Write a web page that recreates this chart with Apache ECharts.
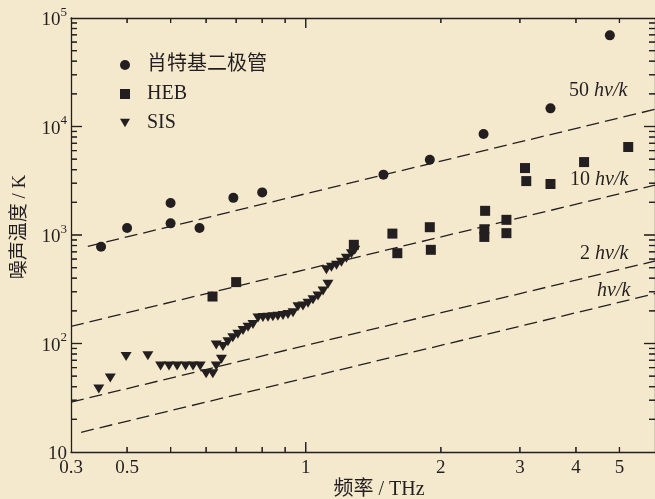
<!DOCTYPE html>
<html>
<head>
<meta charset="utf-8">
<script src="https://cdn.jsdelivr.net/npm/echarts@6/dist/echarts.min.js"></script>
<style>
html,body{margin:0;padding:0;background:#f5e9cd;}
#c{width:655px;height:499px;}
</style>
</head>
<body>
<div id="c"></div>
<script>
// ---- data ----
const seriesNames = ['肖特基二极管', 'HEB', 'SIS'];

const diodeFreq = [0.35, 0.40, 0.50, 0.50, 0.58, 0.69, 0.80, 1.49, 1.89, 2.49, 3.51, 4.76];
const diodeTemp = [780, 1160, 1970, 1280, 1160, 2200, 2470, 3600, 4940, 8530, 14700, 69200];

const hebFreq = [0.62, 0.70, 1.28, 1.56, 1.60, 1.89, 1.90, 2.51, 2.50, 2.50, 2.80, 2.80, 3.08, 3.10, 3.51, 4.17, 5.23];
const hebTemp = [271, 368, 812, 1030, 680, 1180, 730, 1670, 1130, 960, 1380, 1040, 4140, 3140, 2950, 4700, 6470];

const sisFreq = [0.346, 0.367, 0.398, 0.445, 0.475, 0.496, 0.517, 0.540, 0.561, 0.582, 0.600, 0.621,
  0.632, 0.649, 0.632, 0.654, 0.671, 0.688, 0.706, 0.725, 0.744, 0.763, 0.783,
  0.803, 0.824, 0.845, 0.867, 0.890, 0.913, 0.937, 0.961, 0.986, 1.012, 1.038, 1.065, 1.093, 1.121,
  1.112, 1.141, 1.171, 1.201, 1.232, 1.264, 1.286];
const sisTemp = [38, 48, 76, 77, 62, 62, 62, 62, 62, 62, 52.5, 52.5,
  62, 71.6, 97, 94, 104, 113, 122, 132, 141, 150, 172,
  174, 175, 176, 178, 181, 185, 192, 218, 222, 235, 253, 274, 305, 352,
  478, 504, 527, 560, 609, 670, 725];

// reference lines T = n·hν/k (end points)
const refLineNames = ['50', '10', '2', ''];
const refLineFreq = [[0.327, 6], [0.3, 6], [0.3, 6], [0.316, 6]];
const refLineTemp = [[785, 14400], [144, 2880], [28.8, 576], [15.2, 288]];

// axis ticks
const xTickValues = [0.3, 0.4, 1, 2, 3, 4, 5];
const xTickLabels = ['0.3', '0.5', '1', '2', '3', '4', '5'];
const xMinorTicks = [0.4, 0.5, 0.6, 0.7, 0.8, 0.9, 2, 3, 4, 5];
const xMajorTicks = [1];
const yTickValues = [10, 100, 1000, 10000, 100000];
const yTickExp = ['', '2', '3', '4', '5'];
const yMajorTicks = [100, 1000, 10000];
const yMinorTicks = [20,30,40,50,60,70,80,90,200,300,400,500,600,700,800,900,
  2000,3000,4000,5000,6000,7000,8000,9000,20000,30000,40000,50000,60000,70000,80000,90000];

// ---- chart ----
const INK = '#231f20';
const SERIF = '"Liberation Serif", "Noto Sans CJK SC", serif';
const chart = echarts.init(document.getElementById('c'));

const X_MIN = 0.3, X_MAX = 6, Y_MIN = 10, Y_MAX = 100000;

function xAxisDef(pos, showLabel) {
  return {
    type: 'log', logBase: 10, min: X_MIN, max: X_MAX, position: pos,
    axisLine: {show: true, lineStyle: {color: INK, width: 1.3}},
    axisTick: {show: false},
    minorTick: {show: false},
    splitLine: {show: false},
    axisLabel: showLabel ? {
      show: true, customValues: xTickValues, margin: 7,
      fontFamily: SERIF, fontSize: 19, color: INK,
      formatter: function (v) {
        for (let i = 0; i < xTickValues.length; i++) {
          if (Math.abs(xTickValues[i] - v) / xTickValues[i] < 1e-6) return xTickLabels[i];
        }
        return '';
      }
    } : {show: false}
  };
}
function yAxisDef(pos, showLabel) {
  return {
    type: 'log', logBase: 10, min: Y_MIN, max: Y_MAX, position: pos,
    axisLine: {show: true, lineStyle: {color: INK, width: 1.3}},
    axisTick: {show: false},
    minorTick: {show: false},
    splitLine: {show: false},
    axisLabel: showLabel ? {
      show: true, customValues: yTickValues, margin: 4,
      formatter: function (v) {
        for (let i = 0; i < yTickValues.length; i++) {
          if (Math.abs(yTickValues[i] - v) / yTickValues[i] < 1e-6) {
            return yTickExp[i] ? '{b|10}{s|' + yTickExp[i] + '}' : '{b|10}';
          }
        }
        return '';
      },
      rich: {
        b: {fontFamily: SERIF, fontSize: 19, color: INK, lineHeight: 24, verticalAlign: 'bottom'},
        s: {fontFamily: SERIF, fontSize: 13, color: INK, lineHeight: 14, verticalAlign: 'top'}
      }
    } : {show: false}
  };
}

const lineSeries = refLineFreq.map(function (fr, i) {
  return {
    type: 'line', name: 'ref' + refLineNames[i],
    data: fr.map(function (f, j) { return [f, refLineTemp[i][j]]; }),
    showSymbol: false, silent: true,
    lineStyle: {color: INK, width: 1.3, type: [13, 6]}
  };
});

// tick marks as thin rect symbols placed by the axes' scales, shifted inward
function tickMarks(points, w, h, dx, dy) {
  return {
    type: 'scatter', symbol: 'rect', symbolSize: [w, h], symbolOffset: [dx, dy],
    itemStyle: {color: INK},
    data: points
  };
}
const tickSeries = [
  tickMarks(xMinorTicks.map(function (v) { return [v, Y_MIN]; }), 1.2, 5, 0, -2.5),
  tickMarks(xMinorTicks.map(function (v) { return [v, Y_MAX]; }), 1.2, 5, 0, 2.5),
  tickMarks(xMajorTicks.map(function (v) { return [v, Y_MIN]; }), 1.2, 10, 0, -5),
  tickMarks(xMajorTicks.map(function (v) { return [v, Y_MAX]; }), 1.2, 10, 0, 5),
  tickMarks(yMinorTicks.map(function (v) { return [X_MIN, v]; }), 6, 1.2, 3, 0),
  tickMarks(yMinorTicks.map(function (v) { return [X_MAX, v]; }), 6, 1.2, -3, 0),
  tickMarks(yMajorTicks.map(function (v) { return [X_MIN, v]; }), 11, 1.2, 5.5, 0),
  tickMarks(yMajorTicks.map(function (v) { return [X_MAX, v]; }), 11, 1.2, -5.5, 0)
];

function hvk(prefix, l, t) {
  return {type: 'text', left: l, top: t, style: {
    text: (prefix ? '{n|' + prefix + ' }' : '') + '{i|hv/k}',
    rich: {
      n: {fontFamily: SERIF, fontSize: 20, fill: INK},
      i: {fontFamily: SERIF, fontSize: 20, fontStyle: 'italic', fill: INK}
    }}};
}

const textGraphics = [
  hvk('50', 569, 81),
  hvk('10', 570, 170),
  hvk('2', 580, 244),
  hvk('', 597, 281),
  {type: 'text', x: 20, y: 227, rotation: Math.PI / 2,
    style: {text: '噪声温度 / K', fontFamily: SERIF, fontSize: 19, fill: INK, textAlign: 'center', textVerticalAlign: 'middle'}},
  {type: 'text', x: 379, y: 490,
    style: {text: '频率 / THz', fontFamily: SERIF, fontSize: 20, fill: INK, textAlign: 'center', textVerticalAlign: 'middle'}}
];

chart.setOption({
  backgroundColor: '#f5e9cd',
  animation: false,
  grid: {left: 71, right: 0, top: 18, bottom: 47},
  xAxis: [xAxisDef('bottom', true), xAxisDef('top', false)],
  yAxis: [yAxisDef('left', true), yAxisDef('right', false)],
  legend: {
    orient: 'vertical', left: 115, top: 50, itemGap: 9,
    itemWidth: 10, itemHeight: 10,
    data: [
      {name: seriesNames[0], icon: 'circle'},
      {name: seriesNames[1], icon: 'rect'},
      {name: seriesNames[2], icon: 'path://M0,0 L12,0 L6,10 Z'}
    ],
    textStyle: {fontFamily: SERIF, fontSize: 20, color: INK, padding: [0, 0, 0, 12]},
    selectedMode: false
  },
  series: lineSeries.concat(tickSeries).concat([
    {
      type: 'scatter', name: seriesNames[0], symbol: 'circle', symbolSize: 10,
      itemStyle: {color: INK, opacity: 1},
      data: diodeFreq.map(function (f, i) { return [f, diodeTemp[i]]; })
    },
    {
      type: 'scatter', name: seriesNames[1], symbol: 'rect', symbolSize: 10,
      itemStyle: {color: INK, opacity: 1},
      data: hebFreq.map(function (f, i) { return [f, hebTemp[i]]; })
    },
    {
      type: 'scatter', name: seriesNames[2], symbol: 'triangle', symbolRotate: 180, symbolSize: [11, 9],
      itemStyle: {color: INK, opacity: 1},
      data: sisFreq.map(function (f, i) { return [f, sisTemp[i]]; })
    }
  ])
});

// the same ticks also as plain graphic lines, positions from the grid's scales
const pMin = chart.convertToPixel({gridIndex: 0}, [X_MIN, Y_MIN]);
const pMax = chart.convertToPixel({gridIndex: 0}, [X_MAX, Y_MAX]);
const gL = pMin[0], gB = pMin[1], gR = pMax[0], gT = pMax[1];
const tickEls = [];
function tickLine(x1, y1, x2, y2) {
  return {type: 'line', shape: {x1: x1, y1: y1, x2: x2, y2: y2}, style: {stroke: INK, lineWidth: 1.2}};
}
xMinorTicks.concat(xMajorTicks).forEach(function (v, i) {
  const len = i < xMinorTicks.length ? 5 : 10;
  const x = chart.convertToPixel({gridIndex: 0}, [v, Y_MIN])[0];
  tickEls.push(tickLine(x, gB, x, gB - len));
  tickEls.push(tickLine(x, gT, x, gT + len));
});
yMinorTicks.concat(yMajorTicks).forEach(function (v, i) {
  const len = i < yMinorTicks.length ? 6 : 11;
  const y = chart.convertToPixel({gridIndex: 0}, [X_MIN, v])[1];
  tickEls.push(tickLine(gL, y, gL + len, y));
  tickEls.push(tickLine(gR, y, gR - len, y));
});

chart.setOption({graphic: textGraphics.concat(tickEls)});
</script>
</body>
</html>
